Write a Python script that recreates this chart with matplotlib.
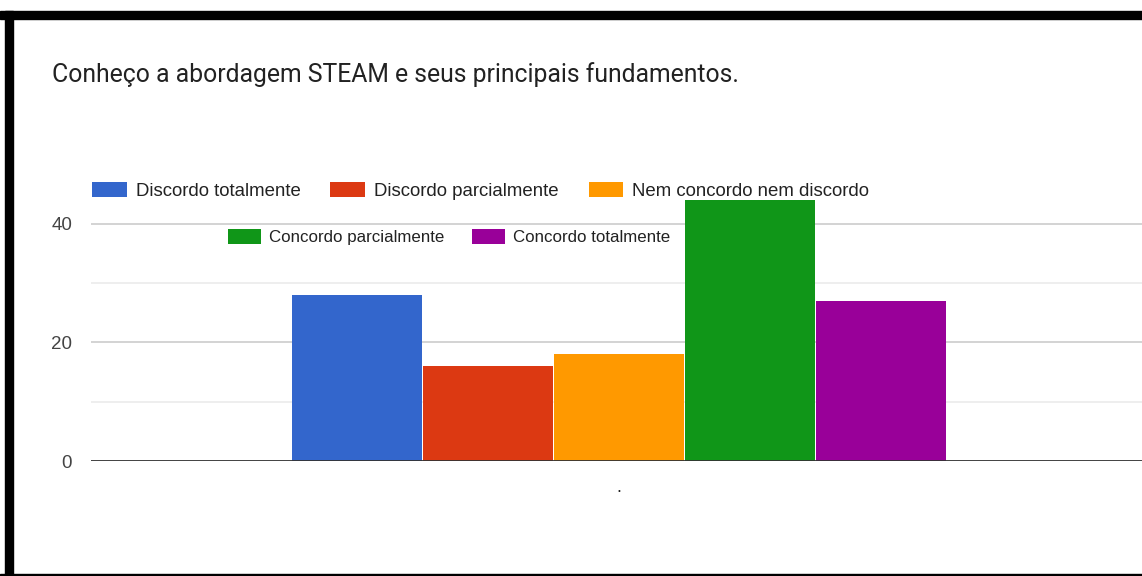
import numpy as np
import matplotlib.pyplot as plt
from matplotlib.patches import Rectangle

W, H = 1142, 576

title = 'Conheço a abordagem STEAM e seus principais fundamentos.'
categories = ['.']
labels = ['Discordo totalmente', 'Discordo parcialmente', 'Nem concordo nem discordo',
          'Concordo parcialmente', 'Concordo totalmente']
values = [28, 16, 18, 44, 27]
colors = ['#3366cc', '#dc3912', '#ff9900', '#109618', '#990099']
yticks = [0, 20, 40]
ygrid_minor = [10, 30]

fig = plt.figure(figsize=(W / 100, H / 100), dpi=100)

# screenshot frame (black bands on top, left, bottom)
fig.patches.append(Rectangle((0, 1 - 19 / H), 1, 8 / H, transform=fig.transFigure,
                             color='black', zorder=0))
fig.patches.append(Rectangle((5 / W, 0), 8 / W, 1 - 11 / H, transform=fig.transFigure,
                             color='black', zorder=0))
fig.patches.append(Rectangle((0, 0), 1, 2.5 / H, transform=fig.transFigure,
                             color='black', zorder=0))

ax = fig.add_axes([91 / W, (H - 461) / H, (1147 - 91) / W, (461 - 180) / H])
ax.set_xlim(-0.5, 0.5)
ax.set_ylim(0, 47.4)

step = 0.124
width = 0.1225
x = np.arange(len(categories))
handles = []
for i, (lab, v, c) in enumerate(zip(labels, values, colors)):
    b = ax.bar(x + (i - 2) * step, [v], width=width, color=c, label=lab, zorder=3)
    handles.append(b)

for yv in yticks[1:]:
    ax.axhline(yv, color='#cccccc', lw=1.2, zorder=1)
for yv in ygrid_minor:
    ax.axhline(yv, color='#ebebeb', lw=1.2, zorder=1)
ax.axhline(0, color='#333333', lw=1.3, zorder=4)

for s in ax.spines.values():
    s.set_visible(False)
ax.set_yticks(yticks)
ax.set_yticklabels([str(t) for t in yticks], family='Liberation Sans', fontsize=13.5,
                   color='#444444')
ax.tick_params(axis='y', length=0, pad=13.5)
ax.set_xticks(x)
ax.set_xticklabels(categories, family='Liberation Sans', fontsize=13, color='#222222')
ax.tick_params(axis='x', length=0, pad=13)

fig.text(52 / W, 1 - 75 / H, title, family='Roboto', fontsize=17.8, color='#222222',
         va='center', ha='left')

leg_kw = dict(frameon=False, loc='center left', borderpad=0, borderaxespad=0,
              handletextpad=0.48, labelcolor='#222222', bbox_transform=fig.transFigure)
leg1 = ax.legend(handles=handles[:3], ncol=3, bbox_to_anchor=(92 / W, 1 - 191 / H),
                 handlelength=1.87, handleheight=0.91, columnspacing=1.6,
                 prop={'family': 'Liberation Sans', 'size': 13.4}, **leg_kw)
ax.add_artist(leg1)
leg2 = ax.legend(handles=handles[3:], ncol=2, bbox_to_anchor=(228 / W, 1 - 237 / H),
                 handlelength=1.95, handleheight=0.95, columnspacing=1.6,
                 prop={'family': 'Liberation Sans', 'size': 12.2}, **leg_kw)
for leg in (leg1, leg2):
    leg.set_zorder(5)

fig.savefig('out.png', dpi=100)
